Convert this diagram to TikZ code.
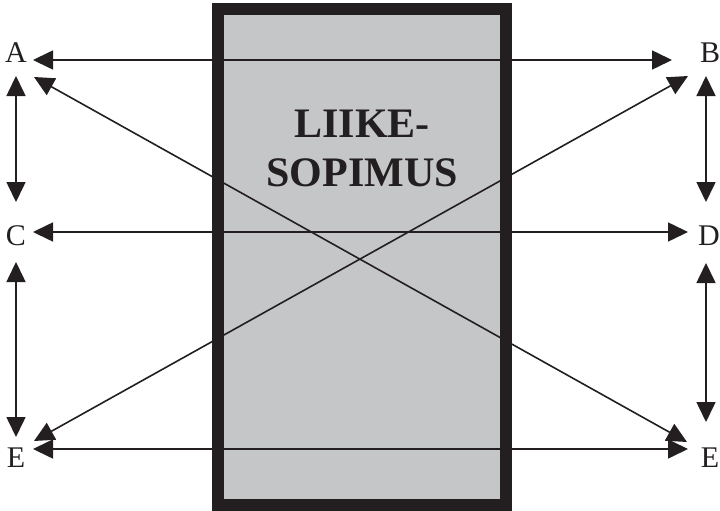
\documentclass[tikz,border=0pt]{standalone}
\usepackage{fontspec}
\setmainfont{Liberation Serif}
\usetikzlibrary{arrows.meta}
\definecolor{boxgrey}{RGB}{197,198,200}
\definecolor{boxdark}{RGB}{35,31,32}
\begin{document}
\begin{tikzpicture}[x=1pt,y=-1pt,
  conn/.style={boxdark,line width=1.6pt,{Triangle[length=20pt,width=19pt]}-{Triangle[length=20pt,width=19pt]}},
  lbl/.style={font=\fontsize{30}{30}\selectfont,inner sep=0pt,text=boxdark},
  bigbox/.style={draw=boxdark,fill=boxgrey,line width=12pt}]
\useasboundingbox (0,0) rectangle (720,511);
\node[bigbox,minimum width=288pt,minimum height=496pt,inner sep=0pt] (box) at (362,257) {};
\node[font=\fontsize{42}{49}\selectfont\bfseries,align=center,text=boxdark,inner sep=0pt] (title) at (362,148) {LIIKE-\\SOPIMUS};
\node[lbl] (A) at (16,53) {A};
\node[lbl] (B) at (710,53) {B};
\node[lbl] (C) at (16,236) {C};
\node[lbl] (D) at (709,236) {D};
\node[lbl] (E1) at (16,458) {E};
\node[lbl] (E2) at (710,458) {E};
\coordinate (aR) at (33,60); \coordinate (bL) at (672,60);
\coordinate (cR) at (33,232); \coordinate (dL) at (688,232);
\coordinate (eR) at (33,449); \coordinate (fL) at (688,449);
\coordinate (aD) at (16,76); \coordinate (cU) at (16,202);
\coordinate (cD) at (16,262); \coordinate (eU) at (16,437);
\coordinate (bD) at (706,76); \coordinate (dU) at (706,202);
\coordinate (dD) at (706,263); \coordinate (fU) at (706,422);
\coordinate (aX) at (34,77); \coordinate (fX) at (687,442);
\coordinate (bX) at (688,76); \coordinate (eX) at (34,441);
\draw[conn] (aR) -- (bL);
\draw[conn] (cR) -- (dL);
\draw[conn] (eR) -- (fL);
\draw[conn] (aD) -- (cU);
\draw[conn] (cD) -- (eU);
\draw[conn] (bD) -- (dU);
\draw[conn] (dD) -- (fU);
\draw[conn] (aX) -- (fX);
\draw[conn] (bX) -- (eX);
\end{tikzpicture}
\end{document}
